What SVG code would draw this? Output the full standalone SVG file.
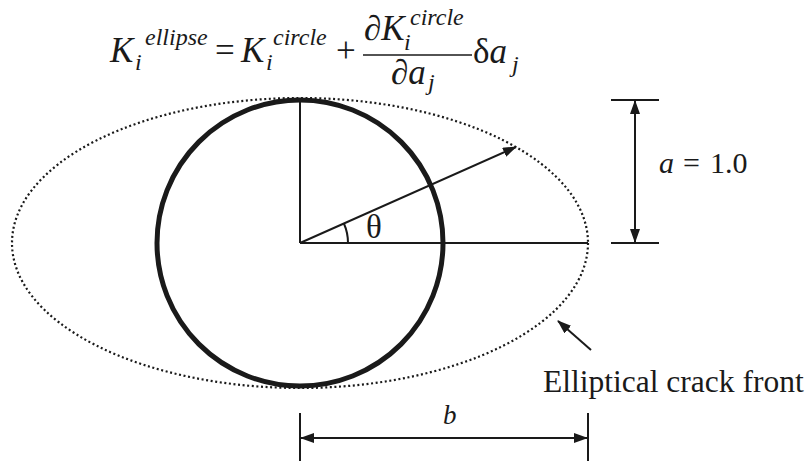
<svg xmlns="http://www.w3.org/2000/svg" width="811" height="461" viewBox="0 0 811 461">
<style>
.ln{stroke:#1a1a1a;stroke-width:2;fill:none}
.t{font-family:"Liberation Serif","Times New Roman",serif;fill:#1a1a1a}
.it{font-style:italic}
.m{font-size:35px}
.s{font-size:24px}
</style>
<defs>
<marker id="ah" viewBox="0 0 14 10" refX="13" refY="5" markerWidth="14" markerHeight="10" markerUnits="userSpaceOnUse" orient="auto-start-reverse">
<path d="M0,0 L14,5 L0,10 Z" fill="#1a1a1a"/>
</marker>
</defs>
<rect width="811" height="461" fill="#fff"/>
<g id="ellipse">
<ellipse cx="300" cy="243" rx="288" ry="145" fill="none" stroke="#1a1a1a" stroke-width="2.2" stroke-dasharray="2 2.6"/>
</g>
<g id="circle">
<circle cx="300" cy="243" r="143" fill="none" stroke="#1a1a1a" stroke-width="5"/>
</g>
<g id="connectors">
<line class="ln" x1="300" y1="100" x2="300" y2="243"/>
<line class="ln" x1="300" y1="243" x2="588" y2="243"/>
<line class="ln" x1="300" y1="243" x2="516" y2="147" marker-end="url(#ah)"/>
<path class="ln" d="M348,243 A48,48 0 0 0 343.9,223.5"/>
<line class="ln" x1="611" y1="100" x2="659" y2="100"/>
<line class="ln" x1="611" y1="243" x2="659" y2="243"/>
<line class="ln" x1="635" y1="101" x2="635" y2="242" marker-start="url(#ah)" marker-end="url(#ah)"/>
<line class="ln" x1="300" y1="413" x2="300" y2="461"/>
<line class="ln" x1="588" y1="413" x2="588" y2="461"/>
<line class="ln" x1="301" y1="438" x2="587" y2="438" marker-start="url(#ah)" marker-end="url(#ah)"/>
<line class="ln" x1="591" y1="350" x2="558" y2="321" marker-end="url(#ah)"/>
</g>
<g id="labels">
<text class="t" x="366" y="238" font-size="33">θ</text>
<text class="t" y="173" font-size="30"><tspan class="it" x="659">a</tspan><tspan x="683">=</tspan><tspan x="710">1.0</tspan></text>
<text class="t it" x="443" y="424" font-size="27">b</text>
<text class="t" x="543" y="392" font-size="31.5">Elliptical crack front</text>
</g>
<g id="formula">
<text class="t it m" x="110" y="62">K</text>
<text class="t it s" x="145" y="45">ellipse</text>
<text class="t it s" x="135" y="70">i</text>
<text class="t m" x="215" y="62">=</text>
<text class="t it m" x="241" y="62">K</text>
<text class="t it s" x="273" y="45">circle</text>
<text class="t it s" x="266" y="70">i</text>
<text class="t m" x="336" y="62">+</text>
<text class="t m" x="364" y="40">∂<tspan class="it">K</tspan></text>
<text class="t it s" x="410" y="25">circle</text>
<text class="t it s" x="404" y="50">i</text>
<line x1="363" y1="55" x2="472" y2="55" stroke="#1a1a1a" stroke-width="1.5"/>
<text class="t m" x="391" y="84">∂<tspan class="it">a</tspan></text>
<text class="t it s" x="428" y="90">j</text>
<text class="t m" x="473" y="63">δ<tspan class="it">a</tspan></text>
<text class="t it s" x="512" y="72">j</text>
</g>
</svg>
